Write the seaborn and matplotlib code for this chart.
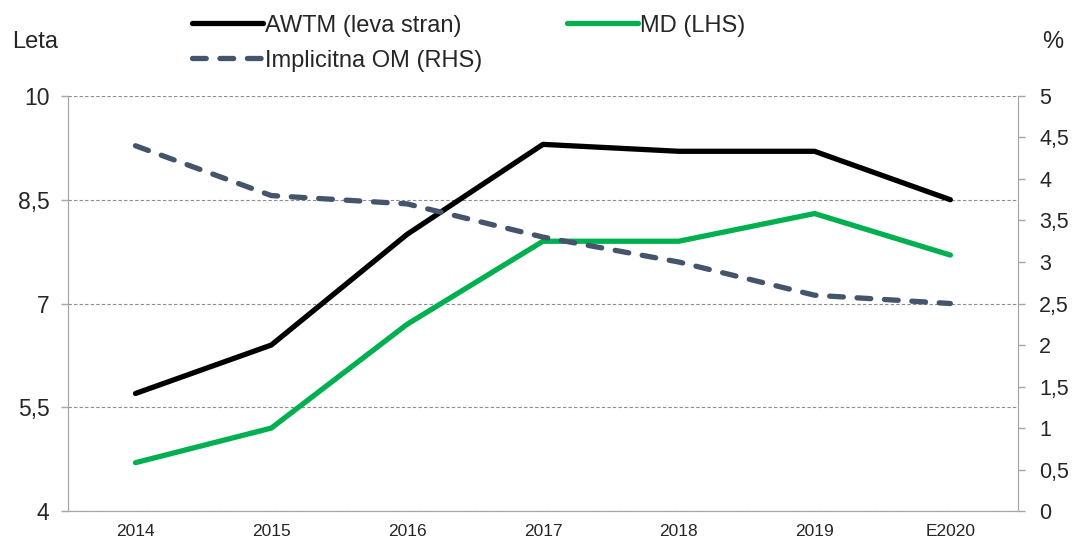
import numpy as np
import pandas as pd
import matplotlib.pyplot as plt
import seaborn as sns

# Podatki
leta = ["2014", "2015", "2016", "2017", "2018", "2019", "E2020"]
awtm = [5.7, 6.4, 8.0, 9.3, 9.2, 9.2, 8.5]
md = [4.7, 5.2, 6.7, 7.9, 7.9, 8.3, 7.7]
om = [4.4, 3.8, 3.7, 3.3, 3.0, 2.6, 2.5]

left_ticks = [4, 5.5, 7, 8.5, 10]
right_ticks = [0, 0.5, 1, 1.5, 2, 2.5, 3, 3.5, 4, 4.5, 5]

sns.set_style("white")
plt.rcParams['font.family'] = ['Liberation Sans', 'DejaVu Sans']

df = pd.DataFrame({"leto": leta, "x": np.arange(len(leta)), "awtm": awtm, "md": md, "om": om})

fig = plt.figure(figsize=(10.73, 5.42), dpi=100)
ax = fig.add_axes([0.063, 0.057, 0.886, 0.766])
ax2 = ax.twinx()

sns.lineplot(data=df, x="x", y="awtm", ax=ax, color="black", lw=3.8,
             label="AWTM (leva stran)", legend=False)
sns.lineplot(data=df, x="x", y="md", ax=ax, color="#00B050", lw=3.8,
             label="MD (LHS)", legend=False)
sns.lineplot(data=df, x="x", y="om", ax=ax2, color="#44546A", lw=3.8,
             label="Implicitna OM (RHS)", legend=False, dashes=False)
ax2.lines[0].set_linestyle((0, (2.6, 2.6)))
ax2.lines[0].set_dash_capstyle("round")
for ln in ax.lines:
    ln.set_solid_capstyle("round")

ax.set_xlim(-0.5, len(leta) - 0.5)
ax.set_ylim(4, 10)
ax2.set_ylim(0, 5)

ax.set_yticks(left_ticks)
ax.set_yticklabels([f"{t:g}".replace(".", ",") for t in left_ticks], fontsize=16.5)
ax2.set_yticks(right_ticks)
ax2.set_yticklabels([f"{t:g}".replace(".", ",") for t in right_ticks], fontsize=15.5)

ax.set_xticks(np.arange(-0.5, len(leta), 1.0))
ax.set_xticklabels([])
ax.set_xticks(np.arange(len(leta)), minor=True)
ax.set_xticklabels(leta, minor=True, fontsize=12.5)
ax.tick_params(axis="x", which="major", length=5, color="#A6A6A6", width=1, direction="out")
ax.tick_params(axis="x", which="minor", length=0, pad=9)
ax.tick_params(axis="y", length=5, color="#A6A6A6", width=1, direction="out", pad=8)
ax2.tick_params(axis="y", length=5, color="#A6A6A6", width=1, direction="out", pad=10)

ax.yaxis.grid(True, color="#8C8C8C", linestyle=(0, (3, 2)), lw=0.8)
ax.xaxis.grid(False)
ax.set_xlabel("")
ax.set_ylabel("")
ax2.set_ylabel("")

for a in (ax, ax2):
    a.spines["top"].set_visible(False)
    a.spines["left"].set_color("#A6A6A6")
    a.spines["right"].set_color("#A6A6A6")
    a.spines["bottom"].set_color("#A6A6A6")

fig.text(0.011, 0.922, "Leta", fontsize=17, va="center")
fig.text(0.971, 0.922, "%", fontsize=17, va="center")

handles = ax.get_lines()[:1] + ax2.get_lines()[:1] + ax.get_lines()[1:2]
labels = ["AWTM (leva stran)", "Implicitna OM (RHS)", "MD (LHS)"]
fig.legend(handles, labels, ncol=2, loc="upper left", bbox_to_anchor=(0.159, 1.012),
           frameon=False, fontsize=17, handlelength=3.0, handletextpad=0.1,
           columnspacing=3.6, labelspacing=0.55)

plt.savefig("out.png", dpi=100)
